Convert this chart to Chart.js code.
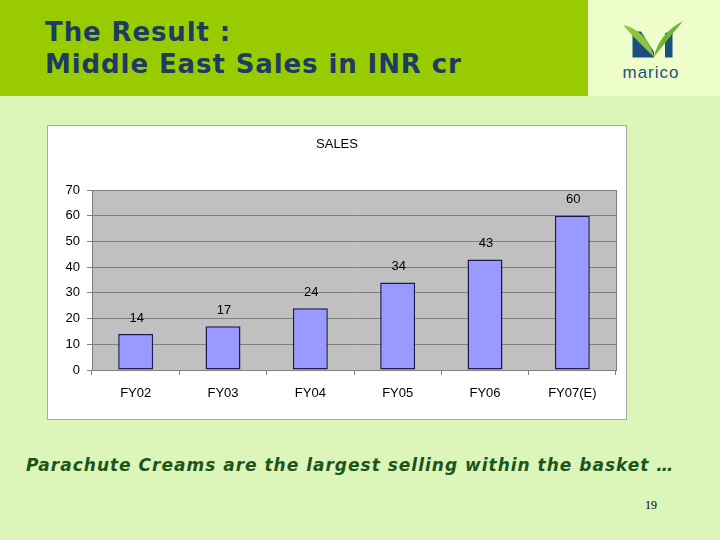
<!DOCTYPE html>
<html>
<head>
<meta charset="utf-8">
<script src="https://cdn.jsdelivr.net/npm/chart.js@4/dist/chart.umd.min.js"></script>
<style>
  html, body { margin: 0; padding: 0; }
  body { width: 720px; height: 540px; background: #dcf5b9; position: relative; overflow: hidden; }
  #header { position: absolute; left: 0; top: 0; width: 588px; height: 96px; background: #99cc00; }
  #logoBg { position: absolute; left: 588px; top: 0; width: 132px; height: 96px; background: #eeffcc; }
  .title { position: absolute; left: 45px; font-family: "DejaVu Sans", Verdana, sans-serif; font-weight: bold; font-size: 26px; line-height: 30px; letter-spacing: 0.9px; color: #1d3b63; white-space: nowrap; }
  #t1 { top: 17px; }
  #t2 { top: 49px; }
  #box { position: absolute; left: 47px; top: 125px; width: 578px; height: 293px; border: 1px solid #a8a8a8; background: #ffffff; }
  #caption { position: absolute; left: 26px; top: 455px; font-family: "DejaVu Sans", Verdana, sans-serif; font-weight: bold; font-style: italic; font-size: 17px; line-height: 20px; letter-spacing: 1px; color: #1b551b; white-space: nowrap; }
  #page { position: absolute; left: 645px; top: 498px; font-family: "Liberation Serif", "Times New Roman", serif; font-size: 12px; color: #000; }
  #logo { position: absolute; left: 588px; top: 0; }
</style>
</head>
<body>
<div id="header"></div>
<div id="logoBg"></div>
<div class="title" id="t1">The Result :</div>
<div class="title" id="t2">Middle East Sales in INR cr</div>
<svg id="logo" width="132" height="96" viewBox="588 0 132 96">
  <polygon points="632.5,31.5 641,31.5 654,52 654,57.5 632.5,57.5" fill="#1b4f7e"/>
  <polygon points="665,33 672.5,31.5 672.5,57.5 665,57.5" fill="#1b4f7e"/>
  <path d="M623,25 C638,28 650,40 654,57 C647,50 634,38 623,25 Z" fill="#8cc63f"/>
  <path d="M654,57 C657,42 667,29 683,21 C675,31 664,44 654,57 Z" fill="#6fb536"/>
  <text x="651" y="78" text-anchor="middle" font-family="Liberation Sans, Arial, sans-serif" font-size="17" fill="#1b4f7e" letter-spacing="1">marico</text>
</svg>
<div id="box"><canvas id="c" width="578" height="293"></canvas></div>
<div id="caption">Parachute Creams are the largest selling within the basket …</div>
<div id="page">19</div>
<script>
const categories = ["FY02", "FY03", "FY04", "FY05", "FY06", "FY07(E)"];
const salesValues = [14, 17, 24, 34, 43, 60];
const yTickValues = [0, 10, 20, 30, 40, 50, 60, 70];
const chartTitle = "SALES";

const FONT = "'Liberation Sans', Arial, sans-serif";

const decor = {
  id: 'decor',
  beforeDraw(chart) {
    const { ctx, chartArea: a } = chart;
    ctx.save();
    ctx.fillStyle = '#c0c0c0';
    ctx.fillRect(a.left, a.top, a.right - a.left, a.bottom - a.top);
    ctx.restore();
  },
  afterDraw(chart) {
    const { ctx, chartArea: a } = chart;
    ctx.save();
    ctx.strokeStyle = '#808080';
    ctx.lineWidth = 1;
    ctx.beginPath();
    ctx.moveTo(Math.round(a.right) + 0.5, a.top);
    ctx.lineTo(Math.round(a.right) + 0.5, a.bottom);
    ctx.stroke();
    ctx.fillStyle = '#000';
    ctx.font = '13px ' + FONT;
    ctx.textAlign = 'center';
    ctx.textBaseline = 'middle';
    ctx.fillText(chartTitle, chart.width / 2, 18);
    const meta = chart.getDatasetMeta(0);
    meta.data.forEach((bar, i) => {
      ctx.fillText(String(salesValues[i]), bar.x + 1, bar.y - 16);
    });
    ctx.restore();
  }
};

new Chart(document.getElementById('c'), {
  type: 'bar',
  data: {
    labels: categories,
    datasets: [{
      data: salesValues,
      backgroundColor: '#9999ff',
      borderColor: '#1a1a4d',
      borderWidth: 1.5,
      borderSkipped: false,
      categoryPercentage: 1,
      barPercentage: 0.4
    }]
  },
  options: {
    responsive: false,
    animation: false,
    devicePixelRatio: 1,
    layout: { padding: { top: 64, right: 10, left: 0, bottom: 0 } },
    plugins: { legend: { display: false }, title: { display: false }, tooltip: { enabled: false } },
    scales: {
      x: {
        afterFit(s) { s.height = 49; },
        grid: { offset: true, drawOnChartArea: false, drawTicks: true, tickLength: 5, color: '#808080' },
        border: { color: '#808080', width: 1 },
        ticks: { color: '#000', font: { family: FONT, size: 13 }, padding: 11, maxRotation: 0 }
      },
      y: {
        min: 0, max: 70,
        afterFit(s) { s.width = 44; },
        afterBuildTicks(s) { s.ticks = yTickValues.map(v => ({ value: v })); },
        grid: { color: '#808080', tickLength: 5 },
        border: { color: '#808080', width: 1 },
        ticks: { color: '#000', font: { family: FONT, size: 13 }, padding: 7 }
      }
    }
  },
  plugins: [decor]
});
</script>
</body>
</html>
